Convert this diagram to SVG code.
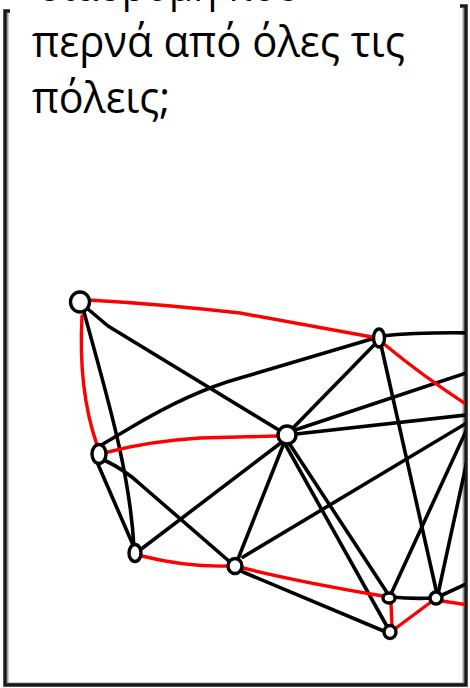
<svg xmlns="http://www.w3.org/2000/svg" width="470" height="688" viewBox="0 0 470 688">
<style>
.t{font-family:"Open Sans","Noto Sans","Liberation Sans",sans-serif;font-size:43px;fill:#000}
.e{fill:none;stroke:#000;stroke-width:3.6;stroke-linecap:round;stroke-linejoin:round}
.r{fill:none;stroke:#f00;stroke-width:3.4;stroke-linecap:round;stroke-linejoin:round}
.n{fill:#fff;stroke:#000;stroke-width:3.4}
.frame{fill:none;stroke:#1a1a1a;stroke-width:3.5}
.shadow{fill:none;stroke:#9a9a9a;stroke-width:2}
</style>
<defs>
<clipPath id="clip"><rect x="0" y="0" width="465" height="688"/></clipPath>
</defs>
<rect width="470" height="688" fill="#fff"/>
<g id="frame">
<path class="shadow" d="M7.5,13 V683.5 H463.5 V8"/>
<path class="frame" d="M10,11 H5 V685 H466 V6 H460"/>
</g>
<g id="title">
<text class="t" x="38" y="1" textLength="262" lengthAdjust="spacingAndGlyphs">διαδρομή που</text>
<text class="t" x="32" y="57" textLength="373" lengthAdjust="spacingAndGlyphs">περνά από όλες τις</text>
<text class="t" x="32" y="113" textLength="138" lengthAdjust="spacingAndGlyphs">πόλεις;</text>
</g>
<g id="connectors" clip-path="url(#clip)">
<path class="e" d="M82,304 L108,326 L287,435"/>
<path class="e" d="M84,312 C105,390 130,470 134,548"/>
<path class="e" d="M103,444 L130,428 Q190,392 240,378 L375,338"/>
<path class="e" d="M97,462 L133,545"/>
<path class="e" d="M104,460 Q125,470 140,484 L230,562"/>
<path class="e" d="M140,550 L282,442"/>
<path class="e" d="M238,559 L284,443"/>
<path class="e" d="M243,557 L475,418"/>
<path class="e" d="M243,572 L386,632"/>
<path class="e" d="M291,430 L377,342"/>
<path class="e" d="M295,430 L475,370"/>
<path class="e" d="M296,434 L475,414"/>
<path class="e" d="M287,440 L388,594"/>
<path class="e" d="M284,442 L389,630"/>
<path class="e" d="M381,345 L437,594"/>
<path class="e" d="M472,418 L391,594"/>
<path class="e" d="M475,424 L438,594"/>
<path class="e" d="M391,597 Q412,599 434,598"/>
<path class="e" d="M438,597 L475,580"/>
<path class="e" d="M381,336 Q420,332 475,333"/>
<path class="r" d="M88,300 Q160,304 240,313 L372,337"/>
<path class="r" d="M82,316 Q78,390 97,445"/>
<path class="r" d="M108,452 Q150,441 200,438 L277,436"/>
<path class="r" d="M142,556 Q185,567 228,566"/>
<path class="r" d="M243,568 Q300,582 383,596"/>
<path class="r" d="M391,603 L392,627"/>
<path class="r" d="M396,628 L431,602"/>
<path class="r" d="M442,601 L475,606"/>
<path class="r" d="M384,344 Q425,378 475,410"/>
</g>
<g id="nodeA"><ellipse class="n" cx="80" cy="302" rx="9.5" ry="10"/></g>
<g id="nodeB"><ellipse class="n" cx="99" cy="454" rx="7" ry="9.5"/></g>
<g id="nodeC"><ellipse class="n" cx="135" cy="553" rx="6" ry="8.5"/></g>
<g id="nodeD"><ellipse class="n" cx="235" cy="566" rx="7" ry="7.5"/></g>
<g id="nodeE"><ellipse class="n" cx="379" cy="338" rx="5.5" ry="9"/></g>
<g id="nodeF"><ellipse class="n" cx="287" cy="435" rx="9" ry="9"/></g>
<g id="nodeG"><ellipse class="n" cx="389" cy="598" rx="6" ry="5"/></g>
<g id="nodeH"><ellipse class="n" cx="390" cy="632" rx="6" ry="6.5"/></g>
<g id="nodeI"><ellipse class="n" cx="436" cy="598" rx="6" ry="6"/></g>
</svg>
